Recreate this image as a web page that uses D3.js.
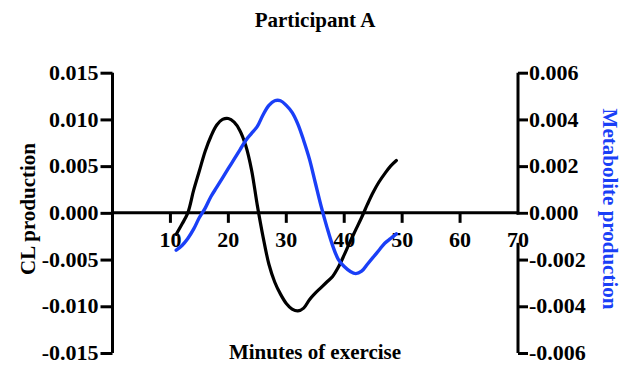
<!DOCTYPE html>
<html>
<head>
<meta charset="utf-8">
<script src="https://cdn.jsdelivr.net/npm/d3@7"></script>
<style>
  body { margin: 0; background: #fff; }
  text { font-family: "Liberation Serif", "Times New Roman", serif; font-weight: bold; }
</style>
</head>
<body>
<div id="chart"></div>
<script>
// minutes of exercise
const minutes = [11,12,13,14,15,16,17,18,19,20,21,22,23,24,25,26,27,28,29,30,
                 31,32,33,34,35,36,37,38,39,40,41,42,43,44,45,46,47,48,49];
// CL production (left axis)
const clProduction = [-0.0023,-0.0012,0.0000,0.0024,0.0045,0.0066,0.0082,0.0094,0.0100,0.0101,
                      0.0097,0.0088,0.0072,0.0046,0.0008,-0.0026,-0.0055,-0.0074,-0.0087,-0.0097,
                      -0.0103,-0.0105,-0.0102,-0.0093,-0.0086,-0.0080,-0.0074,-0.0068,-0.0058,-0.0045,
                      -0.0031,-0.0018,-0.0005,0.0009,0.0022,0.0033,0.0042,0.0050,0.0056];
// Metabolite production (right axis)
const metabolite = [-0.0016,-0.0014,-0.0011,-0.0007,-0.0002,0.0002,0.0007,0.0011,0.0015,0.0019,
                    0.0023,0.0027,0.0031,0.0034,0.0037,0.0042,0.0046,0.0048,0.0048,0.0046,
                    0.0043,0.0038,0.0031,0.0023,0.0013,0.0003,-0.0006,-0.0014,-0.0020,-0.0023,
                    -0.0025,-0.0026,-0.0025,-0.0022,-0.0019,-0.0016,-0.0013,-0.0011,-0.0009];

const xTicks = [10,20,30,40,50,60,70];
const leftTicks = [0.015,0.010,0.005,0.000,-0.005,-0.010,-0.015];
const rightTicks = [0.006,0.004,0.002,0.000,-0.002,-0.004,-0.006];

const width = 626, height = 365;
const blue = "#1a3ff7";

// plain hyphen for negatives, like the original
const fmt = d => (Math.abs(d) < 1e-9 ? 0 : d).toFixed(3);

const svg = d3.select("#chart").append("svg")
    .attr("width", width)
    .attr("height", height);

const x = d3.scaleLinear().domain([0, 70]).range([112.5, 518]);
const yL = d3.scaleLinear().domain([-0.015, 0.015]).range([353, 72.7]);
const yR = d3.scaleLinear().domain([-0.006, 0.006]).range([353, 72.7]);

// left axis
svg.append("g")
    .attr("transform", "translate(" + x(0) + ",0)")
    .call(d3.axisLeft(yL).tickValues(leftTicks).tickFormat(fmt).tickSize(12).tickPadding(2))
    .call(g => g.selectAll("path, line").attr("stroke", "#000").attr("stroke-width", 3))
    .call(g => g.select(".domain").attr("d", "M0," + yL(0.015) + "V" + yL(-0.015)))
    .call(g => g.selectAll("text").attr("font-size", 22).attr("fill", "#000")
        .attr("font-family", "Liberation Serif").attr("font-weight", "bold").attr("dy", "0.3em"));

// right axis
svg.append("g")
    .attr("transform", "translate(" + x(70) + ",0)")
    .call(d3.axisRight(yR).tickValues(rightTicks).tickFormat(fmt).tickSize(10).tickPadding(1))
    .call(g => g.selectAll("path, line").attr("stroke", "#000").attr("stroke-width", 3))
    .call(g => g.select(".domain").attr("d", "M0," + yR(0.006) + "V" + yR(-0.006)))
    .call(g => g.selectAll("text").attr("font-size", 22).attr("fill", "#000")
        .attr("font-family", "Liberation Serif").attr("font-weight", "bold").attr("dy", "0.3em"));

// bottom axis sits on the zero line
const xAxis = svg.append("g")
    .attr("transform", "translate(0," + yL(0) + ")");

// white boxes behind the tick labels (the 70 hides part of the right axis)
xAxis.selectAll("rect.lbg")
    .data(xTicks)
    .join("rect")
    .attr("class", "lbg")
    .attr("x", d => x(d) - 12)
    .attr("y", 2)
    .attr("width", 24)
    .attr("height", 28)
    .attr("fill", "#fff");

xAxis.append("line")
    .attr("x1", x(0)).attr("x2", x(70))
    .attr("stroke", "#000").attr("stroke-width", 3);

xAxis.selectAll("line.tick")
    .data(xTicks.filter(d => d < 70))
    .join("line")
    .attr("class", "tick")
    .attr("x1", d => x(d)).attr("x2", d => x(d))
    .attr("y1", 0).attr("y2", 10)
    .attr("stroke", "#000").attr("stroke-width", 3);

xAxis.selectAll("text")
    .data(xTicks)
    .join("text")
    .attr("x", d => x(d))
    .attr("y", 34)
    .attr("text-anchor", "middle")
    .attr("font-size", 22)
    .text(d => d);

// curves
const lineL = d3.line()
    .x((d, i) => x(minutes[i]))
    .y(d => yL(d))
    .curve(d3.curveCatmullRom.alpha(0.5));
const lineR = d3.line()
    .x((d, i) => x(minutes[i]))
    .y(d => yR(d))
    .curve(d3.curveCatmullRom.alpha(0.5));

svg.append("path")
    .datum(clProduction)
    .attr("d", lineL)
    .attr("fill", "none")
    .attr("stroke", "#000")
    .attr("stroke-width", 3.2)
    .attr("stroke-linecap", "round");

svg.append("path")
    .datum(metabolite)
    .attr("d", lineR)
    .attr("fill", "none")
    .attr("stroke", blue)
    .attr("stroke-width", 3.4)
    .attr("stroke-linecap", "round");

// titles
svg.append("text")
    .attr("x", 315).attr("y", 27)
    .attr("text-anchor", "middle")
    .attr("font-size", 21)
    .text("Participant A");

svg.append("text")
    .attr("x", 315).attr("y", 359)
    .attr("text-anchor", "middle")
    .attr("font-size", 21)
    .text("Minutes of exercise");

svg.append("text")
    .attr("transform", "translate(35,209) rotate(-90)")
    .attr("text-anchor", "middle")
    .attr("font-size", 21)
    .text("CL production");

svg.append("text")
    .attr("transform", "translate(603,209) rotate(90)")
    .attr("text-anchor", "middle")
    .attr("font-size", 21)
    .attr("fill", blue)
    .text("Metabolite production");
</script>
</body>
</html>
